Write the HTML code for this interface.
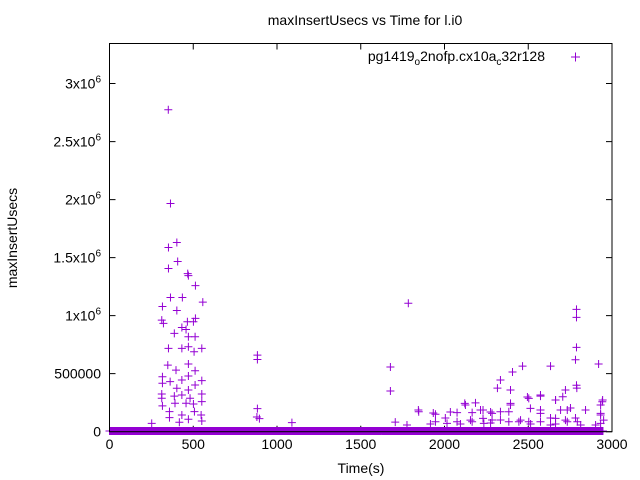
<!DOCTYPE html>
<html><head><meta charset="utf-8">
<style>
body{margin:0;background:#fff;}
svg{display:block;font-family:"Liberation Sans",sans-serif;}
</style></head>
<body>
<svg id="chart" width="640" height="480" viewBox="0 0 640 480" xmlns="http://www.w3.org/2000/svg">
<rect width="640" height="480" fill="#fff"/>
<text x="365" y="25" font-size="14" text-anchor="middle">maxInsertUsecs vs Time for l.i0</text>
<text x="17" y="238" font-size="14" text-anchor="middle" transform="rotate(-90 17 238)">maxInsertUsecs</text>
<text x="361" y="473" font-size="14" text-anchor="middle">Time(s)</text>
<g id="ticks"></g>
<g id="marks"></g>
<rect x="109.5" y="43.5" width="502.5" height="388.2" fill="none" stroke="#000" stroke-width="1"/>
<g>
<text x="545" y="61" font-size="14" text-anchor="end">pg1419<tspan font-size="10" dy="4">o</tspan><tspan dy="-4">2nofp.cx10a</tspan><tspan font-size="10" dy="4">c</tspan><tspan dy="-4">32r128</tspan></text>
<path d="M571 57h9M575.5 52.5v9" stroke="#9400d3" stroke-width="1"/>
</g>
</svg>
<script>
const xTicks=[0,500,1000,1500,2000,2500,3000];
const yTicks=[0,500000,1000000,1500000,2000000,2500000,3000000];
const yTickLabels=["0","500000","1x10^6","1.5x10^6","2x10^6","2.5x10^6","3x10^6"];
const times=[351,364,352,402,407,352,467,471,513,557,364,435,316,402,312,322,513,501,465,457,432,471,387,511,471,352,432,551,505,348,471,397,511,471,316,432,362,551,511,402,316,471,312,551,432,387,312,481,551,391,457,501,316,358,507,432,547,358,471,551,417,252,
883,883,883,895,880,1089,
1784,1677,1677,2788,2788,2788,2782,2788,2790,2920,2633,2466,2406,2334,2316,2394,2185,2495,2573,2722,2663,2944,2932,1844,2125,1933,2035,2215,2275,2394,2573,2693,2752,2842,2932,2005,2155,2454,2633,2722,2782,2950,1706,1916,2095,2275,2514,2663,
1846,1946,1946,2075,2075,2165,2165,2121,2230,2230,2284,2284,2334,2334,2384,2384,2394,2503,2513,2503,2573,2573,2573,2663,2663,2706,2733,2733,2793,2942,2932,2932,1776,2015,2235,2444,2633,2813,2902];
const values=[2774000,1966000,1587000,1630000,1467000,1406000,1362000,1345000,1259000,1116000,1156000,1156000,1079000,1044000,961000,933000,976000,947000,947000,881000,898000,818000,847000,818000,732000,718000,718000,718000,689000,574000,583000,531000,525000,480000,474000,445000,431000,440000,402000,374000,417000,359000,325000,325000,316000,307000,288000,288000,259000,245000,245000,239000,222000,173000,173000,144000,144000,121000,107000,92000,81000,72000,
660000,622000,199000,113000,127000,78000,
1107000,557000,351000,1054000,985000,727000,620000,400000,376000,583000,565000,565000,514000,445000,376000,359000,248000,299000,307000,359000,273000,273000,230000,187000,230000,161000,170000,187000,170000,230000,187000,187000,204000,187000,144000,118000,100000,100000,118000,100000,118000,100000,83000,66000,66000,75000,66000,66000,
172000,150000,86000,164000,86000,164000,86000,244000,187000,115000,158000,101000,172000,101000,172000,86000,244000,287000,201000,86000,316000,158000,86000,273000,115000,301000,187000,86000,86000,258000,158000,72000,58000,72000,72000,86000,58000,58000,58000];
const baseStart=0, baseEnd=2950, baseStep=6;
const baseValue=6000;
const X0=109.5,X1=612,XMAX=3000,Y0=431.7,YTOP=43.5,YMAX=3345000;
function sx(t){return X0+(X1-X0)*t/XMAX;}
function sy(v){return Y0-(Y0-YTOP)*v/YMAX;}
const NS="http://www.w3.org/2000/svg";
const tg=document.getElementById('ticks');
xTicks.forEach((t,i)=>{
  const x=sx(t);
  const p=document.createElementNS(NS,'path');
  p.setAttribute('d',`M${x} ${Y0}v-6M${x} ${YTOP}v6`);p.setAttribute('stroke','#000');
  
  
  tg.appendChild(p);
  const tx=document.createElementNS(NS,'text');
  tx.setAttribute('x',x);tx.setAttribute('y',449);tx.setAttribute('font-size','14');tx.setAttribute('text-anchor','middle');
  tx.textContent=String(t);
  
  
  tg.appendChild(tx);
});
yTicks.forEach((v,i)=>{
  const y=sy(v);
  const p=document.createElementNS(NS,'path');
  p.setAttribute('d',`M${X0} ${y}h6M${X1} ${y}h-6`);p.setAttribute('stroke','#000');
  
  
  tg.appendChild(p);
  const tx=document.createElementNS(NS,'text');
  tx.setAttribute('x',101);tx.setAttribute('y',y+5);tx.setAttribute('font-size','14');tx.setAttribute('text-anchor','end');
  const lab=yTickLabels[i];
  if(lab.indexOf('^')>=0){
    const parts=lab.split('^');
    tx.textContent=parts[0];
    const sup=document.createElementNS(NS,'tspan');
    sup.setAttribute('font-size','10');sup.setAttribute('dy','-6');sup.textContent=parts[1];
    tx.appendChild(sup);
  } else tx.textContent=lab;
  
  
  tg.appendChild(tx);
});
const mg=document.getElementById('marks');
let d='';
for(let t=baseStart;t<=baseEnd;t+=baseStep){
  const x=sx(t),y=sy(baseValue);
  d+=`M${x-4} ${y}h8M${x} ${y-4}v8`;
}
const bp=document.createElementNS(NS,'path');
bp.setAttribute('d',d);bp.setAttribute('stroke','#9400d3');bp.setAttribute('fill','none');


mg.appendChild(bp);
times.forEach((t,i)=>{
  const x=sx(t),y=sy(values[i]);
  const p=document.createElementNS(NS,'path');
  p.setAttribute('d',`M${x-4} ${y}h8M${x} ${y-4}v8`);
  p.setAttribute('stroke','#9400d3');
  
  
  mg.appendChild(p);
});
</script>
</body></html>
